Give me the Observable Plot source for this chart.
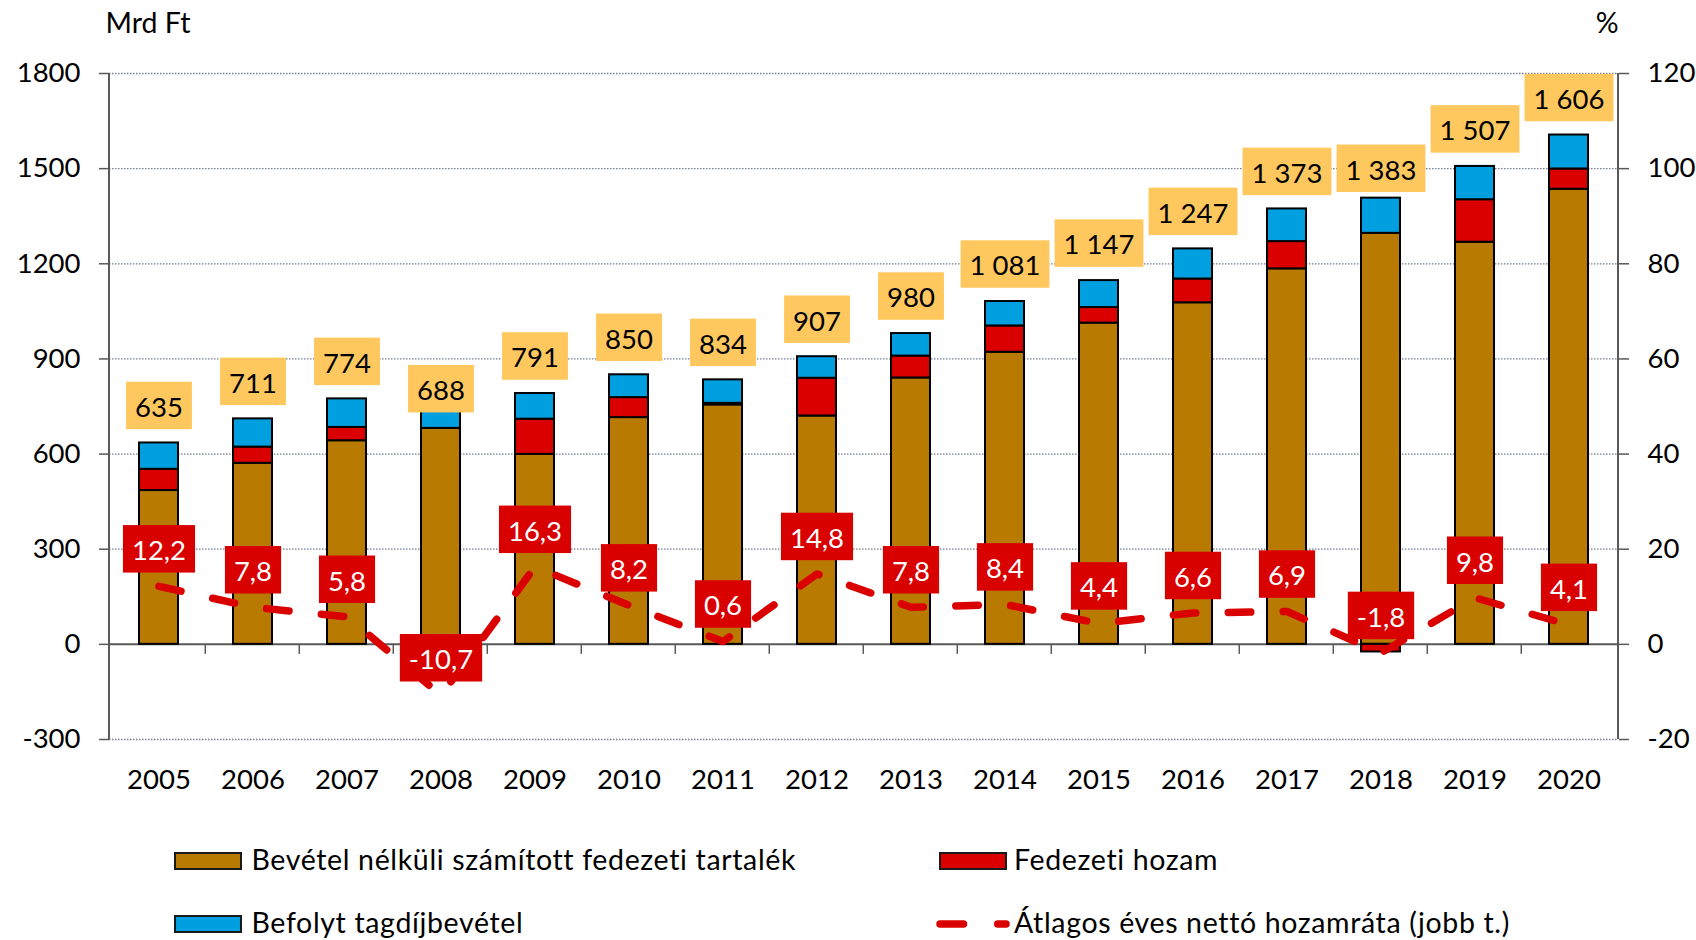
<!DOCTYPE html>
<html>
<head>
<meta charset="utf-8">
<script src="https://cdn.jsdelivr.net/npm/d3@7"></script>
<script src="https://cdn.jsdelivr.net/npm/@observablehq/plot@0.6"></script>
<style>
  html, body { margin: 0; padding: 0; background: #fff; }
  #wrap { position: relative; width: 1696px; height: 940px; font-family: Lato, "Open Sans", sans-serif; overflow: hidden; }
  #chart { position: absolute; left: 0; top: 0; }
  .lg { position: absolute; font-size: 28.5px; letter-spacing: 0.65px; line-height: 1; color: #000; white-space: nowrap; }
  .sw { position: absolute; width: 64px; height: 14px; border: 2px solid #1a1a1a; }
</style>
</head>
<body>
<div id="wrap">
  <div id="chart"></div>
  <div id="legend"></div>
</div>
<script>
// ---- data ----
const years = [2005, 2006, 2007, 2008, 2009, 2010, 2011, 2012, 2013, 2014, 2015, 2016, 2017, 2018, 2019, 2020];
const reserve = [485, 571, 642, 681, 599, 715, 755, 720, 840, 921, 1013, 1077, 1184, 1296, 1268, 1435];
const yieldAmt = [67, 51, 42, -83, 111, 63, 5, 119, 69, 83, 49, 75, 86, -24, 134, 64];
const contributions = [83, 89, 90, 90, 81, 72, 74, 68, 71, 77, 85, 95, 103, 111, 105, 107];
const totals = [635, 711, 774, 688, 791, 850, 834, 907, 980, 1081, 1147, 1247, 1373, 1383, 1507, 1606];
const rate = [12.2, 7.8, 5.8, -10.7, 16.3, 8.2, 0.6, 14.8, 7.8, 8.4, 4.4, 6.6, 6.9, -1.8, 9.8, 4.1];
const leftTicks = [-300, 0, 300, 600, 900, 1200, 1500, 1800];
const rightTicks = [-20, 0, 20, 40, 60, 80, 100, 120];
const seriesNames = ["Bevétel nélküli számított fedezeti tartalék", "Fedezeti hozam", "Befolyt tagdíjbevétel"];
const lineName = "Átlagos éves nettó hozamráta (jobb t.)";
const seriesColors = ["#B87A00", "#DA0000", "#009FDF"];
const lineColor = "#DA0000";
const labelRed = "#D90000";
const labelYellow = "#FFC85F";
const leftUnit = "Mrd Ft";
const rightUnit = "%";
const RATIO = 15; // left-axis units per right-axis unit

// ---- derived tables ----
const stacked = years.flatMap((yr, i) => [
  {year: yr, series: seriesNames[0], value: reserve[i]},
  {year: yr, series: seriesNames[1], value: yieldAmt[i]},
  {year: yr, series: seriesNames[2], value: contributions[i]}
]);
const rateRows = years.map((yr, i) => ({year: yr, rate: rate[i]}));
const totalRows = years.map((yr, i) => ({year: yr, total: totals[i]}));

const fmtThousands = n => String(n).replace(/\B(?=(\d{3})+(?!\d))/g, " ");
const fmtRate = v => v.toFixed(1).replace(".", ",");

const FS = 27.5;
const PAD_INNER = 0.59;

function frameDecor(index, scales, values, dims) {
  const x = scales.x, y = scales.y;
  const step = x(years[1]) - x(years[0]);
  const g = d3.create("svg:g");
  const xl = dims.marginLeft, xr = dims.width - dims.marginRight;
  const y0 = y(0);
  for (let k = 1; k < years.length; k++) {
    const bx = x(years[k]) - step * PAD_INNER / 2;
    g.append("line").attr("x1", bx).attr("x2", bx).attr("y1", y0).attr("y2", y0 + 10)
      .attr("stroke", "#595959").attr("stroke-width", 1.5);
  }
  for (const ax of [xl, xr]) {
    g.append("line").attr("x1", ax).attr("x2", ax)
      .attr("y1", y(leftTicks[leftTicks.length - 1])).attr("y2", y(leftTicks[0]))
      .attr("stroke", "#595959").attr("stroke-width", 2);
  }
  return g.node();
}

const chart = Plot.plot({
  width: 1696,
  height: 800,
  marginTop: 73,
  marginBottom: 61,
  marginLeft: 109,
  marginRight: 78,
  style: {fontFamily: "Lato, 'Open Sans', sans-serif", fontSize: FS + "px", color: "#000", background: "#fff", overflow: "visible"},
  x: {type: "band", domain: years, paddingInner: PAD_INNER, paddingOuter: PAD_INNER / 2, align: 0.5, axis: null},
  y: {domain: [leftTicks[0], leftTicks[leftTicks.length - 1]], axis: null},
  color: {domain: seriesNames, range: seriesColors},
  marks: [
    Plot.ruleY(leftTicks.filter(t => t !== 0), {stroke: "#6F7D95", strokeWidth: 1.3, strokeDasharray: "1.5 1.5"}),
    Plot.ruleY([0], {stroke: "#595959", strokeWidth: 2}),
    Plot.barY(stacked, {x: "year", y: "value", fill: "series", stroke: "#000", strokeWidth: 2}),
    frameDecor,
    Plot.axisY({ticks: leftTicks, anchor: "left", tickSize: 10, tickPadding: 19, stroke: "#595959", strokeWidth: 1.5, fill: "#000", fontSize: FS, tickFormat: d => String(d), label: null}),
    Plot.axisY({ticks: rightTicks.map(v => v * RATIO), anchor: "right", tickSize: 10, tickPadding: 19, stroke: "#595959", strokeWidth: 1.5, fill: "#000", fontSize: FS, tickFormat: d => String(Math.round(d / RATIO)), label: null}),
    Plot.axisX({tickSize: 0, tickPadding: 30, fontSize: FS, fill: "#000", tickFormat: d => String(d), label: null}),
    Plot.line(rateRows, {x: "year", y: d => d.rate * RATIO, stroke: lineColor, strokeWidth: 7.5, strokeLinecap: "round", strokeLinejoin: "round", strokeDasharray: "22.5 32.5"}),
    Plot.text(rateRows, {x: "year", y: d => d.rate * RATIO, text: d => fmtRate(d.rate), dy: -35, fill: "#fff", fontSize: FS, className: "ratelbl"}),
    Plot.text(totalRows, {x: "year", y: "total", text: d => fmtThousands(d.total), dy: -35, fill: "#000", fontSize: FS, className: "totallbl"}),
    Plot.text([leftUnit], {frameAnchor: "top-left", text: d => d, textAnchor: "start", lineAnchor: "middle", dx: -4, dy: -50, fill: "#000", fontSize: 28.5}),
    Plot.text([rightUnit], {frameAnchor: "top-right", text: d => d, textAnchor: "end", lineAnchor: "middle", dx: 0, dy: -50, fill: "#000", fontSize: 28.5})
  ]
});
document.getElementById("chart").appendChild(chart);

// label boxes sized from the rendered text
function addBoxes(cls, fill) {
  let texts = chart.querySelectorAll(`.${cls} text`);
  if (!texts.length) texts = chart.querySelectorAll(`text.${cls}`);
  texts.forEach(t => {
    const bb = t.getBBox();
    const tf = t.getAttribute("transform");
    const r = document.createElementNS("http://www.w3.org/2000/svg", "rect");
    if (tf) r.setAttribute("transform", tf);
    r.setAttribute("x", bb.x - 9);
    r.setAttribute("width", bb.width + 18);
    r.setAttribute("y", -2.5 - 23.75);
    r.setAttribute("height", 47.5);
    r.setAttribute("fill", fill);
    r.setAttribute("stroke", "none");
    t.parentNode.insertBefore(r, t);
  });
}
addBoxes("ratelbl", labelRed);
addBoxes("totallbl", labelYellow);

// ---- legend (HTML below the plot) ----
const legend = document.getElementById("legend");
const items = [
  {name: seriesNames[0], color: seriesColors[0], sx: 174, ty: 860.5, tx: 251.5},
  {name: seriesNames[1], color: seriesColors[1], sx: 939, ty: 860.5, tx: 1014},
  {name: seriesNames[2], color: seriesColors[2], sx: 174, ty: 924, tx: 251.5}
];
const LFS = 28.5;
for (const it of items) {
  const sw = document.createElement("div");
  sw.className = "sw";
  sw.style.left = it.sx + "px";
  sw.style.top = (it.ty - 9) + "px";
  sw.style.background = it.color;
  legend.appendChild(sw);
  const tx = document.createElement("div");
  tx.className = "lg";
  tx.textContent = it.name;
  tx.style.left = it.tx + "px";
  tx.style.top = (it.ty - LFS * 0.56) + "px";
  legend.appendChild(tx);
}
const ns = "http://www.w3.org/2000/svg";
const ls = document.createElementNS(ns, "svg");
ls.setAttribute("width", 100); ls.setAttribute("height", 20);
ls.style.position = "absolute"; ls.style.left = "926px"; ls.style.top = (924 - 10) + "px";
const ln = document.createElementNS(ns, "line");
ln.setAttribute("x1", 14); ln.setAttribute("x2", 80); ln.setAttribute("y1", 10); ln.setAttribute("y2", 10);
ln.setAttribute("stroke", lineColor); ln.setAttribute("stroke-width", 7.5);
ln.setAttribute("stroke-linecap", "round"); ln.setAttribute("stroke-dasharray", "23.5 34.25");
ls.appendChild(ln);
legend.appendChild(ls);
const lt = document.createElement("div");
lt.className = "lg";
lt.textContent = lineName;
lt.style.left = "1014px";
lt.style.top = (924 - LFS * 0.56) + "px";
legend.appendChild(lt);
</script>
</body>
</html>
